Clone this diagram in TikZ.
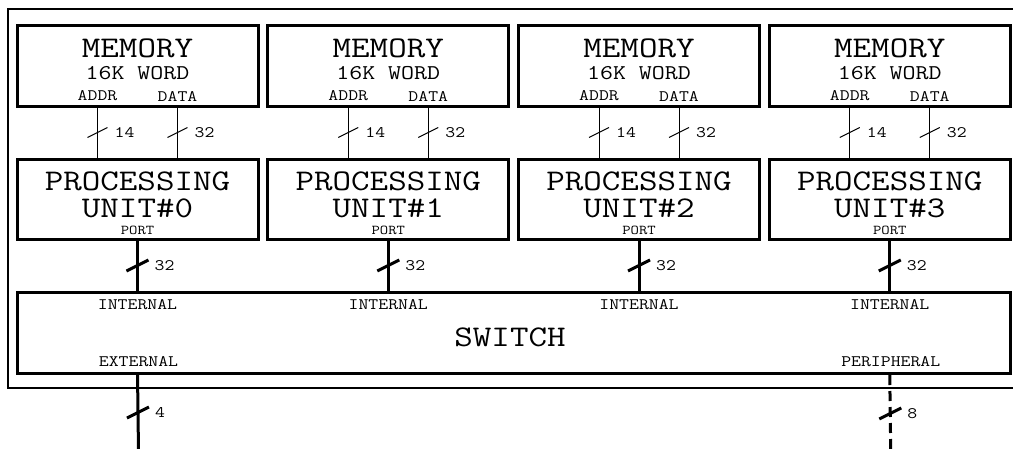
\documentclass[tikz,border=0pt]{standalone}
\usepackage{fontspec}
\newfontfamily\cour{Latin Modern Mono}[FakeStretch=1.2]
\begin{document}
\begin{tikzpicture}[x=1pt,y=-1pt,
  blk/.style={draw, line width=3pt, minimum width=241pt, minimum height=81pt, inner sep=0pt, outer sep=0pt, anchor=north west},
  big/.style={font=\cour\fontsize{30}{26.5}\selectfont, inner sep=0pt},
  mid/.style={font=\cour\fontsize{21}{21}\selectfont, inner sep=0pt},
  sml/.style={font=\cour\fontsize{16}{16}\selectfont, inner sep=0pt},
  tny/.style={font=\cour\fontsize{13.5}{13.5}\selectfont, inner sep=0pt},
  num/.style={font=\cour\fontsize{16}{16}\selectfont, inner sep=0pt, anchor=west},
  thinbus/.style={line width=1pt},
  thickbus/.style={line width=3pt},
  periph/.style={line width=3pt, dash pattern=on 10pt off 6pt},
  frame/.style={line width=2pt}
]
\useasboundingbox (0,0) rectangle (1013,448);
\draw[frame] (1030,9) -- (7.5,9) -- (7.5,388) -- (1030,388);
\node[blk, minimum width=993pt] (sw) at (17,292) {};
\node[big] (swt) at (510,337) {SWITCH};
\foreach \i in {0,...,3}{
  \pgfmathsetmacro\x{17+250.75*\i}
  \pgfmathsetmacro\cx{\x+120.5}
  \node[blk] (m\i) at (\x,25) {};
  \node[blk, minimum height=80pt] (p\i) at (\x,159) {};
  \node[big] (mt\i) at (\cx,48) {MEMORY};
  \node[mid] (ms\i) at (\cx,73) {16K WORD};
  \node[sml] (ma\i) at (\cx-40,96) {ADDR};
  \node[sml] (md\i) at (\cx+40,96) {DATA};
  \node[big, align=center, anchor=base] (pt\i) at (\cx,217) {PROCESSING\\UNIT\#\i};
  \node[tny] (pp\i) at (\cx,230) {PORT};
  \node[sml] (si\i) at (\cx,305) {INTERNAL};
  \draw[thinbus] ([xshift=-40pt]m\i.south) -- coordinate[midway] (a\i) ([xshift=-40pt]p\i.north);
  \draw[thinbus] ([xshift=40pt]m\i.south) -- coordinate[midway] (d\i) ([xshift=40pt]p\i.north);
  \draw[thinbus] (a\i) ++(-10,5) -- ++(20,-10);
  \draw[thinbus] (d\i) ++(-10,5) -- ++(20,-10);
  \node[num] (na\i) at ([xshift=17pt]a\i) {14};
  \node[num] (nd\i) at ([xshift=17pt]d\i) {32};
  \draw[thickbus] (p\i.south) -- coordinate[midway] (b\i) (p\i.south |- sw.north);
  \draw[thickbus] (b\i) ++(-11,5.5) -- ++(22,-11);
  \node[num] (nb\i) at ([xshift=17pt]b\i) {32};
}
\node[sml] (ext) at (138.5,362) {EXTERNAL};
\node[sml] (per) at (890.75,362) {PERIPHERAL};
\coordinate (extend) at (138.5,452);
\coordinate (perend) at (890.75,452);
\draw[thickbus] (p0.south |- sw.south) -- coordinate[pos=0.5] (e0) (extend);
\draw[thickbus] (e0) ++(-11,5.5) -- ++(22,-11);
\node[num] (n4) at ([xshift=17pt]e0) {4};
\draw[periph] (p3.south |- sw.south) ++(0,2) -- coordinate[pos=0.5] (e3) (perend);
\draw[thickbus] (e3) ++(-11,5.5) -- ++(22,-11);
\node[num] (n8) at ([xshift=17pt]e3) {8};
\end{tikzpicture}
\end{document}
